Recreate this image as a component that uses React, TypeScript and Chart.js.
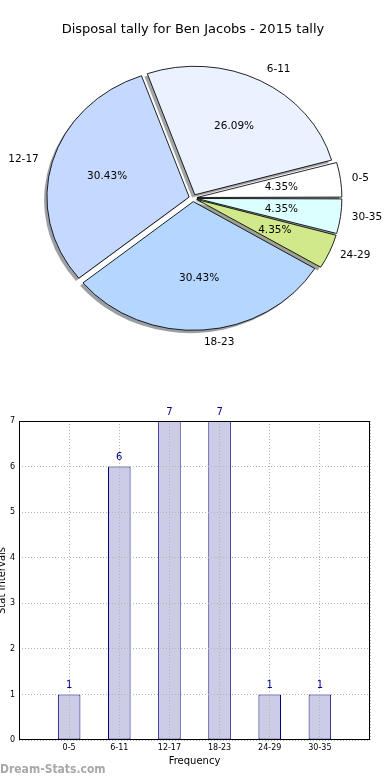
import React, { useEffect, useRef } from 'react';
import { Chart, registerables } from 'chart.js';

Chart.register(...registerables);

// ---- data ----
const categories = ['0-5', '6-11', '12-17', '18-23', '24-29', '30-35'];
const counts = [1, 6, 7, 7, 1, 1];
const sliceColors = ['#ffffff', '#eaf2ff', '#c5d9ff', '#b5d6ff', '#d0e98a', '#dcffff'];
const yTickMax = 7;
const pieTitle = 'Disposal tally for Ben Jacobs - 2015 tally';
const xAxisTitle = 'Frequency';
const yAxisTitle = 'Stat Intervals';
const watermark = 'Dream-Stats.com';

const FONT = "'DejaVu Sans', 'Liberation Sans', sans-serif";
const Y_SCALE = 0.905; // vertical squash of the pie (non-equal aspect)
const LABEL_FONT = 10.5;

function shadowOf(color: string): string {
  const h = color.replace('#', '');
  const r = parseInt(h.slice(0, 2), 16);
  const g = parseInt(h.slice(2, 4), 16);
  const b = parseInt(h.slice(4, 6), 16);
  return `rgba(${Math.round(r * 0.3)},${Math.round(g * 0.3)},${Math.round(b * 0.3)},0.5)`;
}

const pieDecor = {
  id: 'pieDecor',
  beforeDatasetsDraw(chart: any) {
    const arcs = chart.getDatasetMeta(0).data;
    const ctx = chart.ctx;
    ctx.save();
    if (!arcs.length) return;
    const cx = arcs[0].x;
    const cy = arcs[0].y;
    ctx.translate(cx, cy);
    ctx.scale(1, Y_SCALE);
    ctx.translate(-cx, -cy);
    arcs.forEach((el: any) => {
      const off = (el.options.offset || 0) / 4;
      const mid = (el.startAngle + el.endAngle) / 2;
      const circ = el.endAngle - el.startAngle;
      const r = el.outerRadius + off * (1 - Math.sin(Math.min(Math.PI, circ)));
      const x = el.x + Math.cos(mid) * off - 2.8;
      const y = el.y + Math.sin(mid) * off + 2.8 / Y_SCALE;
      ctx.beginPath();
      ctx.moveTo(x, y);
      ctx.arc(x, y, r, el.startAngle, el.endAngle);
      ctx.closePath();
      ctx.fillStyle = shadowOf(el.options.backgroundColor);
      ctx.fill();
    });
  },
  afterDatasetsDraw(chart: any) {
    const ctx = chart.ctx;
    ctx.restore();
    const arcs = chart.getDatasetMeta(0).data;
    const data: number[] = chart.data.datasets[0].data;
    const labels: string[] = chart.data.labels;
    const total = data.reduce((a, b) => a + b, 0);
    ctx.save();
    ctx.fillStyle = '#000';
    ctx.font = `${LABEL_FONT}px ${FONT}`;
    ctx.textBaseline = 'middle';
    arcs.forEach((el: any, i: number) => {
      const off = (el.options.offset || 0) / 4;
      const mid = (el.startAngle + el.endAngle) / 2;
      const R = el.outerRadius;
      const c = Math.cos(mid);
      const s = Math.sin(mid);
      // outer label
      const lx = el.x + c * (off + 1.1 * R);
      const ly = el.y + s * (off + 1.1 * R) * Y_SCALE;
      ctx.textAlign = c >= 0 ? 'left' : 'right';
      ctx.fillText(labels[i], lx, ly);
      // percentage
      const px = el.x + c * (off + 0.6 * R);
      const py = el.y + s * (off + 0.6 * R) * Y_SCALE;
      ctx.textAlign = 'center';
      ctx.fillText(((data[i] / total) * 100).toFixed(2) + '%', px, py);
    });
    ctx.restore();
  },
};

const barDecor = {
  id: 'barDecor',
  afterDraw(chart: any) {
    const { ctx, chartArea: a } = chart;
    ctx.save();
    ctx.strokeStyle = '#000';
    ctx.lineWidth = 1;
    ctx.strokeRect(
      Math.round(a.left) + 0.5,
      Math.round(a.top) + 0.5,
      Math.round(a.right - a.left) - 1,
      Math.round(a.bottom - a.top) - 1
    );
    const meta = chart.getDatasetMeta(0);
    ctx.fillStyle = '#00008b';
    ctx.font = `10px ${FONT}`;
    ctx.textAlign = 'center';
    ctx.textBaseline = 'middle';
    meta.data.forEach((el: any, i: number) => {
      ctx.fillText(String(counts[i]), el.x, el.y - 9);
    });
    ctx.restore();
  },
};

export default function App() {
  const pieRef = useRef<HTMLCanvasElement>(null);
  const barRef = useRef<HTMLCanvasElement>(null);

  useEffect(() => {
    // Pie: matplotlib goes counter-clockwise from 3 o'clock; Chart.js goes clockwise,
    // so feed it in reverse order starting at 3 o'clock.
    const pieLabels = [...categories].reverse();
    const pieData = [...counts].reverse();
    const pieColors = [...sliceColors].reverse();

    const pie = new Chart(pieRef.current as HTMLCanvasElement, {
      type: 'pie',
      data: {
        labels: pieLabels,
        datasets: [
          {
            data: pieData,
            backgroundColor: pieColors,
            borderColor: '#000',
            borderWidth: 0.9,
            offset: 16,
            hoverOffset: 0,
          },
        ],
      },
      options: {
        responsive: false,
        animation: false,
        events: [],
        rotation: 90,
        radius: 142,
        layout: { padding: { left: 0, right: 4, top: 0, bottom: 21.6 } },
        plugins: {
          legend: { display: false },
          tooltip: { enabled: false },
          title: {
            display: true,
            text: pieTitle,
            color: '#000',
            font: { family: FONT, size: 13, weight: 'normal' },
            padding: { top: 22, bottom: 10 },
          },
        },
      } as any,
      plugins: [pieDecor],
    });

    const bar = new Chart(barRef.current as HTMLCanvasElement, {
      type: 'bar',
      data: {
        datasets: [
          {
            data: counts.map((v, i) => ({ x: i, y: v })),
            backgroundColor: 'rgb(204,204,230)',
            borderColor: '#000080',
            borderWidth: 1,
            borderSkipped: false,
            categoryPercentage: 1,
            barPercentage: 0.45,
          },
        ],
      },
      options: {
        responsive: false,
        animation: false,
        events: [],
        layout: { padding: { left: 0, right: 20, top: 41, bottom: 0 } },
        plugins: {
          legend: { display: false },
          tooltip: { enabled: false },
          title: { display: false },
        },
        scales: {
          x: {
            type: 'linear',
            min: -1,
            max: categories.length,
            offset: false,
            afterFit: (s: any) => {
              s.height = 40;
            },
            afterBuildTicks: (s: any) => {
              s.ticks = [];
              for (let v = -1; v <= categories.length; v++) s.ticks.push({ value: v });
            },
            ticks: {
              autoSkip: false,
              maxRotation: 0,
              padding: 3,
              color: '#000',
              font: { family: FONT, size: 8 },
              callback: (v: any) => categories[v] ?? '',
            },
            grid: { offset: false, drawTicks: false, color: '#b4b4b4', lineWidth: 1, z: 1 },
            border: { display: false, dash: [1, 2] },
            title: {
              display: true,
              text: xAxisTitle,
              color: '#000',
              font: { family: FONT, size: 10 },
              padding: { top: 0, bottom: 13 },
            },
          },
          y: {
            min: 0,
            max: yTickMax,
            afterFit: (s: any) => {
              s.width = 19;
            },
            ticks: {
              stepSize: 1,
              padding: 4,
              color: '#000',
              font: { family: FONT, size: 8 },
            },
            grid: { drawTicks: false, color: '#b4b4b4', lineWidth: 1, z: 1 },
            border: { display: false, dash: [1, 2] },
            title: {
              display: true,
              text: yAxisTitle,
              color: '#000',
              font: { family: FONT, size: 10 },
              padding: { top: -4, bottom: 0 },
            },
          },
        },
      } as any,
      plugins: [barDecor],
    });

    return () => {
      pie.destroy();
      bar.destroy();
    };
  }, []);

  return (
    <div
      style={{
        position: 'absolute',
        left: 0,
        top: 0,
        width: 390,
        height: 780,
        background: '#fff',
        overflow: 'hidden',
      }}
    >
      <canvas
        ref={pieRef}
        width={390}
        height={370}
        style={{ position: 'absolute', left: 0, top: 0, width: 390, height: 370 }}
      />
      <canvas
        ref={barRef}
        width={390}
        height={400}
        style={{ position: 'absolute', left: 0, top: 380, width: 390, height: 400 }}
      />
      <div
        style={{
          position: 'absolute',
          left: 0,
          top: 762,
          fontFamily: "'DejaVu Sans Condensed', 'DejaVu Sans', sans-serif",
          fontWeight: 'bold',
          fontSize: 12,
          lineHeight: '14px',
          color: '#a8a8a8',
          whiteSpace: 'nowrap',
        }}
      >
        {watermark}
      </div>
    </div>
  );
}
